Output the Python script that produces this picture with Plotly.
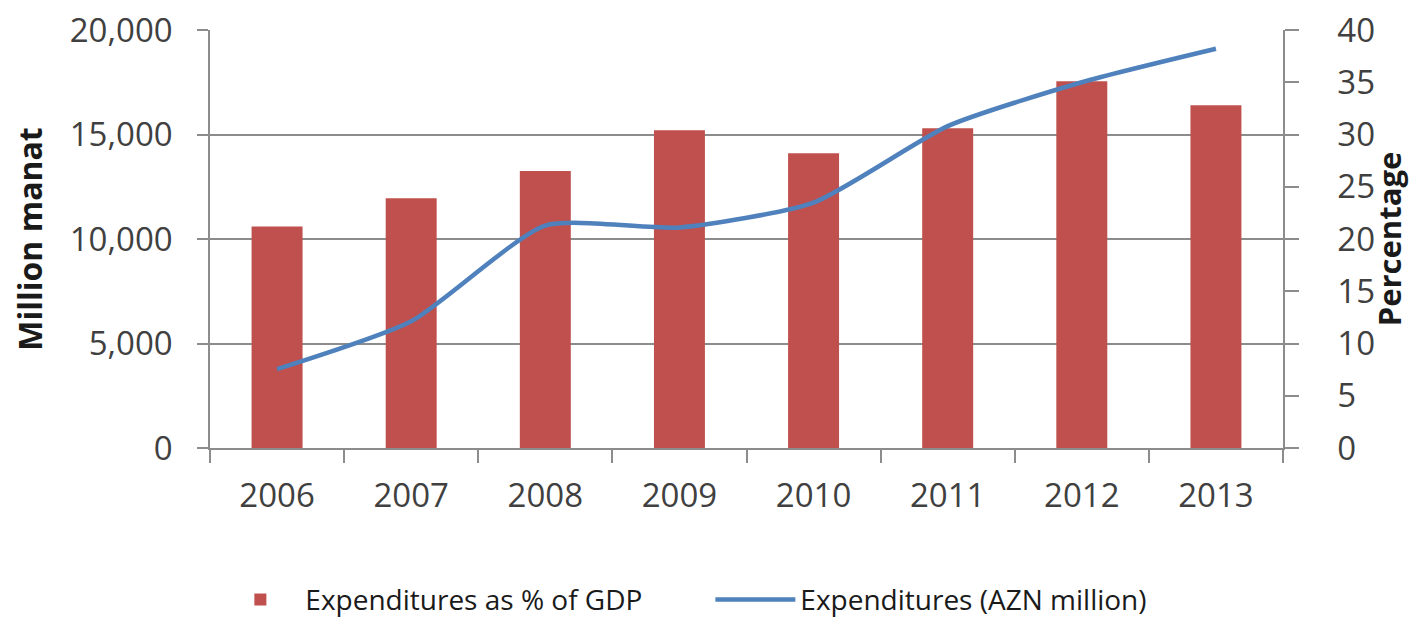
import plotly.graph_objects as go

years = ["2006", "2007", "2008", "2009", "2010", "2011", "2012", "2013"]
pct_gdp = [21.2, 23.9, 26.5, 30.4, 28.2, 30.6, 35.1, 32.8]
expend_azn = [3770, 6060, 10640, 10550, 11740, 15400, 17500, 19100]

left_ticks = [0, 5000, 10000, 15000, 20000]
left_labels = ["0", "5,000", "10,000", "15,000", "20,000"]
right_ticks = [0, 5, 10, 15, 20, 25, 30, 35, 40]

FONT = "Open Sans"
TXT = "#404040"
GRID = "#8c8c8c"

fig = go.Figure()
fig.add_trace(go.Bar(
    x=years, y=pct_gdp, name="Expenditures as % of GDP",
    marker=dict(color="#C0504D", line=dict(width=0)),
    width=0.38, yaxis="y",
))
fig.add_trace(go.Scatter(
    x=years, y=expend_azn, name="Expenditures (AZN million)",
    mode="lines", line=dict(color="#4F81BD", width=4.5, shape="spline", smoothing=0.6),
    yaxis="y2",
))

fig.update_layout(
    width=1402, height=627,
    margin=dict(l=202, r=127, t=22, b=186),
    paper_bgcolor="white", plot_bgcolor="white",
    font=dict(family=FONT, color=TXT, size=33),
    xaxis=dict(
        type="category", showgrid=False, showline=True, linecolor=GRID, linewidth=1.5,
        ticks="outside", ticklen=13, tickcolor=GRID, tickwidth=1.5, tickson="boundaries",
        tickfont=dict(size=33, color=TXT), ticklabelstandoff=18, automargin=False,
    ),
    yaxis=dict(
        side="right", range=[0, 40], tickvals=right_ticks, showgrid=False, zeroline=False,
        showline=True, linecolor=GRID, linewidth=1.5,
        ticks="outside", ticklen=14, tickcolor=GRID, tickwidth=1.5,
        tickfont=dict(size=33, color=TXT), ticklabelstandoff=32, automargin=False,
        ticklabeloverflow="allow",
        title=dict(text="<b>Percentage</b>", font=dict(size=31, color="#1a1a1a"), standoff=4),
    ),
    yaxis2=dict(
        side="left", overlaying="y", range=[0, 20000], tickvals=left_ticks, ticktext=left_labels,
        showgrid=True, gridcolor=GRID, gridwidth=1.5, zeroline=False,
        showline=True, linecolor=GRID, linewidth=1.5,
        ticks="outside", ticklen=11, tickcolor=GRID, tickwidth=1.5,
        tickfont=dict(size=33, color=TXT), ticklabelstandoff=18, automargin=False,
        ticklabeloverflow="allow",
        title=dict(text="<b>Million manat</b>", font=dict(size=32, color="#1a1a1a"), standoff=28),
    ),
    legend=dict(
        orientation="h", x=0.005, xanchor="left", y=-0.36, yanchor="middle",
        font=dict(size=28, color="#1a1a1a"), itemwidth=80, traceorder="normal",
        entrywidth=400, entrywidthmode="pixels",
    ),
    showlegend=True,
)

fig.write_html("out.html")
